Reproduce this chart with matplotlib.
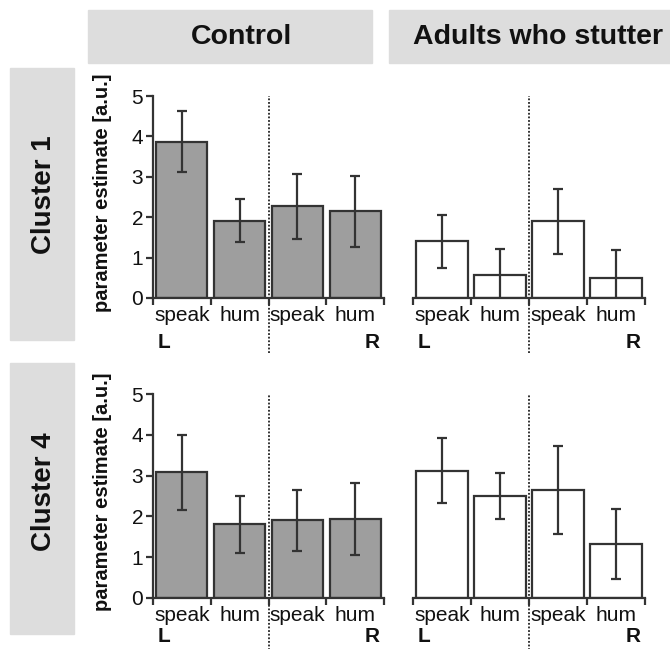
import numpy as np
import matplotlib
matplotlib.use('Agg')
import matplotlib.pyplot as plt
import matplotlib.transforms as mtransforms
from matplotlib.patches import Rectangle

plt.rcParams['font.family'] = ['Liberation Sans', 'DejaVu Sans']

# %% data

conditions = ['speak', 'hum', 'speak', 'hum']
groups = ['Control', 'Adults who stutter']
clusters = ['Cluster 1', 'Cluster 4']

# cluster 1
c1_control_mean = [3.87, 1.91, 2.27, 2.15]
c1_control_err = [0.76, 0.53, 0.80, 0.88]
c1_asw_mean = [1.40, 0.58, 1.90, 0.49]
c1_asw_err = [0.65, 0.64, 0.80, 0.70]

# cluster 4
c4_control_mean = [3.08, 1.80, 1.90, 1.93]
c4_control_err = [0.93, 0.70, 0.74, 0.88]
c4_asw_mean = [3.12, 2.50, 2.65, 1.33]
c4_asw_err = [0.80, 0.56, 1.08, 0.86]

means = [[c1_control_mean, c1_asw_mean], [c4_control_mean, c4_asw_mean]]
errs = [[c1_control_err, c1_asw_err], [c4_control_err, c4_asw_err]]

# %% figure

W, H = 670, 649
fig = plt.figure(figsize=(W / 100, H / 100), dpi=100)


def px_box(x0, y0, x1, y1):
    # pixel box (top-left origin) -> figure fraction rect
    return [x0 / W, 1 - y1 / H, (x1 - x0) / W, (y1 - y0) / H]


box_col = '#dddddd'
dark = '#333333'
txt_col = '#111111'

# header boxes
fig.patches.append(Rectangle((88 / W, 1 - 63 / H), (372 - 88) / W, 53 / H,
                             transform=fig.transFigure, color=box_col, zorder=0))
fig.patches.append(Rectangle((389 / W, 1 - 63 / H), (700 - 389) / W, 53 / H,
                             transform=fig.transFigure, color=box_col, zorder=0))
fig.text(242 / W, 1 - 37 / H, groups[0], ha='center', va='center',
         fontsize=20.5, fontweight='bold', color=txt_col)
fig.text(538 / W, 1 - 37 / H, groups[1], ha='center', va='center',
         fontsize=20.5, fontweight='bold', color=txt_col)

# cluster boxes
for (y0, y1, ytxt), name in zip([(68, 340, 195), (363, 634, 492)], clusters):
    fig.patches.append(Rectangle((10 / W, 1 - y1 / H), 64 / W, (y1 - y0) / H,
                                 transform=fig.transFigure, color=box_col, zorder=0))
    fig.text(44 / W, 1 - ytxt / H, name, ha='center', va='center', rotation=90,
             fontsize=20, fontweight='bold', color=txt_col)

# axes rectangles (pixels) and where the L / R row sits below each
rows = [(96, 298), (394.3, 597.7)]
lr_y = [-0.22, -0.19]
cols = [(153, 384), (413, 645)]

x = np.arange(len(conditions))
for r, (ytop, ybot) in enumerate(rows):
    for c, (xl, xr) in enumerate(cols):
        ax = fig.add_axes(px_box(xl, ytop, xr, ybot))
        face = '#9e9e9e' if c == 0 else 'white'
        ax.bar(x, means[r][c], width=0.88, color=face, edgecolor=dark,
               linewidth=1.6, zorder=2)
        ax.errorbar(x, means[r][c], yerr=errs[r][c], fmt='none', ecolor=dark,
                    elinewidth=1.6, capsize=3.6, capthick=1.6, zorder=3)
        ax.set_xlim(-0.5, 3.5)
        ax.set_ylim(0, 5)
        ax.patch.set_alpha(0)

        for s in ['top', 'right']:
            ax.spines[s].set_visible(False)
        ax.spines['bottom'].set_linewidth(1.6)
        ax.spines['bottom'].set_color(dark)

        ax.set_xticks(x)
        ax.set_xticklabels(conditions, fontsize=15, color=txt_col)
        ax.set_xticks(np.arange(-0.5, 4.0, 1.0), minor=True)
        ax.tick_params(axis='x', which='major', length=0, pad=6)
        ax.tick_params(axis='x', which='minor', length=5, width=1.6,
                       color=dark, direction='out')

        if c == 0:
            ax.spines['left'].set_linewidth(1.6)
            ax.spines['left'].set_color(dark)
            ax.set_yticks(range(6))
            ax.tick_params(axis='y', length=5, width=1.6, color=dark,
                           labelsize=15, labelcolor=txt_col, pad=2)
            ax.set_ylabel('parameter estimate [a.u.]', fontsize=14.5,
                          fontweight='bold', color=txt_col)
            ax.yaxis.set_label_coords(-0.177, 0.52)
        else:
            ax.spines['left'].set_visible(False)
            ax.set_yticks([])

        # hemisphere divider
        trans = mtransforms.blended_transform_factory(ax.transData, ax.transAxes)
        ax.plot([1.5, 1.5], [-0.27, 1.0], transform=trans, color='#222222',
                linestyle=(0, (1, 1)), linewidth=1.3, clip_on=False, zorder=1)
        ax.text(-0.42, lr_y[r], 'L', transform=trans, ha='left', va='center',
                fontsize=15, fontweight='bold', color=txt_col)
        ax.text(3.42, lr_y[r], 'R', transform=trans, ha='right', va='center',
                fontsize=15, fontweight='bold', color=txt_col)

fig.savefig('out.png', dpi=100)
